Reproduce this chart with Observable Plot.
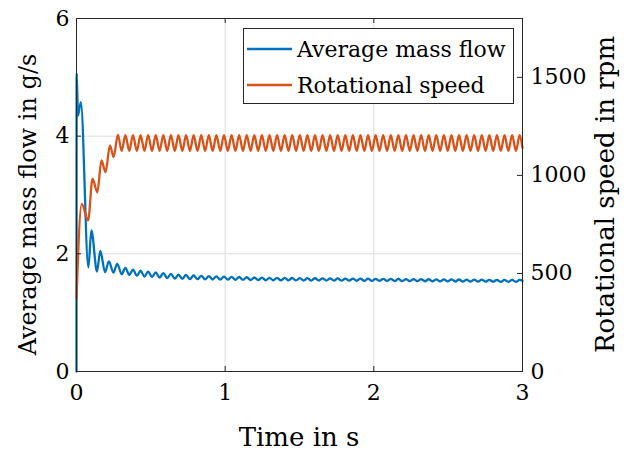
<!DOCTYPE html>
<html>
<head>
<meta charset="utf-8">
<script src="https://cdn.jsdelivr.net/npm/d3@7"></script>
<script src="https://cdn.jsdelivr.net/npm/@observablehq/plot@0.6"></script>
<style>
  html, body { margin: 0; padding: 0; background: #fff; }
  #chart { width: 635px; height: 452px; }
</style>
</head>
<body>
<div id="chart"></div>
<script>
// ---- data ----
const xTicks = [0, 1, 2, 3];
const xGrid = [1, 2];
const yLeftTicks = [0, 2, 4, 6];
const yGrid = [2, 4];
const yRightTicks = [0, 500, 1000, 1500];
const seriesNames = ["Average mass flow", "Rotational speed"];
const seriesColors = ["#0072BD", "#D95319"];
const xLabel = "Time in s";
const yLeftLabel = "Average mass flow in g/s";
const yRightLabel = "Rotational speed in rpm";
const rpmPerLeftUnit = 300; // right axis 0..1800 rpm aligned with left 0..6 g/s

const flowTime = [0, 0.001, 0.010, 0.029, 0.080, 0.100, 0.138, 0.160, 0.192, 0.218, 0.248, 0.274,
  0.304, 0.329, 0.355, 0.380, 0.406, 0.431, 0.457, 0.482, 0.508, 0.533,
  0.559, 0.584, 0.610, 0.635, 0.661, 0.686, 0.712, 0.737, 0.763, 0.788,
  0.814, 0.839, 0.865, 0.890, 0.916, 0.941, 0.967, 0.992, 1.018, 1.043,
  1.069, 1.094, 1.120, 1.145, 1.171, 1.196, 1.222, 1.247, 1.273, 1.298,
  1.324, 1.349, 1.375, 1.400, 1.426, 1.451, 1.477, 1.502, 1.528, 1.553,
  1.579, 1.604, 1.630, 1.655, 1.681, 1.706, 1.732, 1.757, 1.783, 1.808,
  1.834, 1.859, 1.885, 1.910, 1.936, 1.961, 1.987, 2.012, 2.038, 2.063,
  2.089, 2.114, 2.140, 2.165, 2.191, 2.216, 2.242, 2.267, 2.293, 2.318,
  2.344, 2.369, 2.395, 2.420, 2.446, 2.471, 2.497, 2.522, 2.548, 2.573,
  2.599, 2.624, 2.650, 2.675, 2.701, 2.726, 2.752, 2.777, 2.803, 2.828,
  2.854, 2.879, 2.905, 2.930, 2.956, 2.981, 3.0];
const flowGs = [0, 5.07, 4.35, 4.58, 1.77, 2.40, 1.70, 2.05, 1.69, 1.87, 1.68, 1.83,
  1.654, 1.763, 1.640, 1.732, 1.628, 1.713, 1.614, 1.697, 1.605, 1.684,
  1.595, 1.672, 1.588, 1.659, 1.581, 1.648, 1.576, 1.640, 1.572, 1.632,
  1.569, 1.627, 1.567, 1.622, 1.564, 1.618, 1.563, 1.613, 1.561, 1.610,
  1.559, 1.606, 1.557, 1.602, 1.555, 1.598, 1.553, 1.596, 1.551, 1.593,
  1.551, 1.592, 1.549, 1.590, 1.549, 1.589, 1.548, 1.588, 1.547, 1.587,
  1.546, 1.585, 1.546, 1.584, 1.545, 1.583, 1.544, 1.582, 1.543, 1.580,
  1.543, 1.579, 1.542, 1.578, 1.541, 1.577, 1.540, 1.576, 1.539, 1.575,
  1.538, 1.574, 1.537, 1.573, 1.537, 1.571, 1.536, 1.570, 1.535, 1.569,
  1.534, 1.568, 1.533, 1.567, 1.532, 1.566, 1.531, 1.565, 1.530, 1.564,
  1.529, 1.563, 1.529, 1.561, 1.528, 1.560, 1.527, 1.559, 1.526, 1.558,
  1.525, 1.557, 1.525, 1.556, 1.524, 1.556, 1.54];

const speedTime = [0, 0.035, 0.078, 0.108, 0.140, 0.168, 0.195, 0.225, 0.250, 0.278,
  0.304, 0.329, 0.355, 0.380, 0.406, 0.431, 0.457, 0.482, 0.508, 0.533,
  0.559, 0.584, 0.610, 0.635, 0.661, 0.686, 0.712, 0.737, 0.763, 0.788,
  0.814, 0.839, 0.865, 0.890, 0.916, 0.941, 0.967, 0.992, 1.018, 1.043,
  1.069, 1.094, 1.120, 1.145, 1.171, 1.196, 1.222, 1.247, 1.273, 1.298,
  1.324, 1.349, 1.375, 1.400, 1.426, 1.451, 1.477, 1.502, 1.528, 1.553,
  1.579, 1.604, 1.630, 1.655, 1.681, 1.706, 1.732, 1.757, 1.783, 1.808,
  1.834, 1.859, 1.885, 1.910, 1.936, 1.961, 1.987, 2.012, 2.038, 2.063,
  2.089, 2.114, 2.140, 2.165, 2.191, 2.216, 2.242, 2.267, 2.293, 2.318,
  2.344, 2.369, 2.395, 2.420, 2.446, 2.471, 2.497, 2.522, 2.548, 2.573,
  2.599, 2.624, 2.650, 2.675, 2.701, 2.726, 2.752, 2.777, 2.803, 2.828,
  2.854, 2.879, 2.905, 2.930, 2.956, 2.981, 3.0];
const speedRpm = [375, 855, 770, 983, 914, 1076, 1016, 1153, 1093, 1207,
  1125, 1205, 1125, 1205, 1125, 1205, 1125, 1205, 1125, 1205,
  1125, 1205, 1125, 1205, 1125, 1205, 1125, 1205, 1125, 1205,
  1125, 1205, 1125, 1205, 1125, 1205, 1125, 1205, 1125, 1205,
  1125, 1205, 1125, 1205, 1125, 1205, 1125, 1205, 1125, 1205,
  1125, 1205, 1125, 1205, 1125, 1205, 1125, 1205, 1125, 1205,
  1125, 1205, 1125, 1205, 1125, 1205, 1125, 1205, 1125, 1205,
  1125, 1205, 1125, 1205, 1125, 1205, 1125, 1205, 1125, 1205,
  1125, 1205, 1125, 1205, 1125, 1205, 1125, 1205, 1125, 1205,
  1125, 1205, 1125, 1205, 1125, 1205, 1125, 1205, 1125, 1205,
  1125, 1205, 1125, 1205, 1125, 1205, 1125, 1205, 1125, 1205,
  1125, 1205, 1125, 1205, 1125, 1205, 1140];

// ---- build tables ----
const flow = flowTime.map((t, i) => ({t, v: flowGs[i]}));
const speed = speedTime.map((t, i) => ({t, v: speedRpm[i]}));
const rightTickPos = yRightTicks.map(v => v / rpmPerLeftUnit);

const FONT = "DejaVu Serif";
const axisColor = "#262626";
const W = 635, H = 452, mL = 76, mR = 113, mT = 18, mB = 81;
const frameW = W - mL - mR, frameH = H - mT - mB, tickLen = 5;

const plot = Plot.plot({
  width: W,
  height: H,
  marginLeft: mL,
  marginRight: mR,
  marginTop: mT,
  marginBottom: mB,
  style: {fontFamily: FONT, fontSize: "22px", background: "#fff", color: "#000"},
  x: {domain: [0, 3]},
  y: {domain: [0, 6]},
  marks: [
    Plot.gridX(xGrid, {stroke: "#dcdcdc", strokeOpacity: 1}),
    Plot.gridY(yGrid, {stroke: "#dcdcdc", strokeOpacity: 1}),
    Plot.line(flow, {x: "t", y: "v", stroke: seriesColors[0], strokeWidth: 2.3, curve: "monotone-x"}),
    Plot.line(speed, {x: "t", y: d => d.v / rpmPerLeftUnit, stroke: seriesColors[1], strokeWidth: 2.3, curve: "monotone-x"}),
    Plot.frame({stroke: axisColor}),
    // inward ticks
    Plot.tickX(xTicks, {x: d => d, stroke: axisColor, insetTop: frameH - tickLen}),
    Plot.tickX(xTicks, {x: d => d, stroke: axisColor, insetBottom: frameH - tickLen}),
    Plot.tickY(yLeftTicks, {y: d => d, stroke: axisColor, insetRight: frameW - tickLen}),
    Plot.tickY(rightTickPos, {y: d => d, stroke: axisColor, insetLeft: frameW - tickLen}),
    // tick labels
    Plot.axisX({anchor: "bottom", ticks: xTicks, tickSize: 0, tickPadding: 13, label: null, tickFormat: d => String(d)}),
    Plot.axisY({anchor: "left", ticks: yLeftTicks, tickSize: 0, tickPadding: 7, label: null, tickFormat: d => String(d)}),
    Plot.axisY({anchor: "right", ticks: rightTickPos, tickSize: 0, tickPadding: 8, label: null,
      tickFormat: d => String(Math.round(d * rpmPerLeftUnit))})
  ]
});

document.getElementById("chart").appendChild(plot);

// axis titles and legend
const svg = d3.select(plot);
const cy = (mT + (H - mB)) / 2;
const titles = svg.append("g").attr("font-family", FONT).attr("fill", "#000").attr("text-anchor", "middle");
titles.append("text").attr("font-size", 26).attr("x", (mL + W - mR) / 2).attr("y", 446).text(xLabel);
titles.append("text").attr("font-size", 24).attr("transform", `translate(36,${cy + 10}) rotate(-90)`).text(yLeftLabel);
titles.append("text").attr("font-size", 26).attr("transform", `translate(614,${cy}) rotate(-90)`).text(yRightLabel);

const lg = svg.append("g").attr("font-family", FONT).attr("font-size", 22).attr("text-anchor", "start");
lg.append("rect").attr("x", 243.5).attr("y", 28.5).attr("width", 270).attr("height", 75)
  .attr("fill", "#fff").attr("stroke", axisColor).attr("stroke-width", 1);
seriesNames.forEach((name, i) => {
  const yy = 49 + i * 36;
  lg.append("line").attr("x1", 247).attr("x2", 292).attr("y1", yy).attr("y2", yy)
    .attr("stroke", seriesColors[i]).attr("stroke-width", 2.3);
  lg.append("text").attr("x", 297).attr("y", yy + 7.5).attr("fill", "#000").text(name);
});
</script>
</body>
</html>
